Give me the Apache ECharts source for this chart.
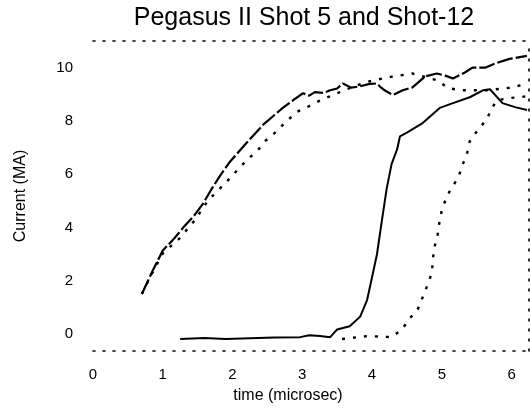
<!DOCTYPE html>
<html>
<head>
<meta charset="utf-8">
<title>Pegasus II</title>
<script src="https://cdn.jsdelivr.net/npm/echarts@6/dist/echarts.min.js"></script>
<style>
  html, body { margin: 0; padding: 0; background: #fff; }
  #main { width: 530px; height: 409px; }
</style>
</head>
<body>
<div id="main"></div>
<script>
// time ticks (microsec) and value ticks
var xTicks = [0, 1, 2, 3, 4, 5, 6];
var yTicks = [0, 2, 4, 6, 8, 10];

// long-dash curve, shot 5 (upper)
var shot5Upper = [
  [0.70, 1.51], [0.85, 2.35], [1.00, 3.14], [1.15, 3.55], [1.29, 3.99], [1.45, 4.45],
  [1.58, 4.91], [1.70, 5.45], [1.82, 5.94], [1.96, 6.46], [2.18, 7.12], [2.44, 7.86],
  [2.72, 8.49], [2.88, 8.80], [3.01, 9.04], [3.10, 8.95], [3.18, 9.08], [3.30, 9.05],
  [3.40, 9.15], [3.50, 9.22], [3.58, 9.41], [3.70, 9.25], [3.83, 9.30], [3.95, 9.38],
  [4.07, 9.41], [4.11, 9.30], [4.18, 9.15], [4.30, 8.97], [4.38, 9.08], [4.44, 9.15],
  [4.58, 9.26], [4.76, 9.67], [4.93, 9.78], [5.05, 9.70], [5.16, 9.59], [5.33, 9.82],
  [5.44, 10.00], [5.62, 10.00], [5.79, 10.18], [5.97, 10.33], [6.22, 10.44]
];

// dotted curve, shot 12 (upper)
var shot12Upper = [
  [0.70, 1.51], [0.85, 2.30], [1.00, 3.03], [1.25, 3.62], [1.46, 4.28], [1.65, 5.02],
  [1.93, 5.76], [2.06, 6.13], [2.22, 6.57], [2.35, 6.86], [2.46, 7.23], [2.61, 7.56],
  [2.75, 7.93], [2.92, 8.34], [3.07, 8.52], [3.21, 8.71], [3.40, 8.93], [3.60, 9.15],
  [3.90, 9.45], [4.21, 9.63], [4.58, 9.78], [4.94, 9.52], [5.09, 9.23], [5.29, 9.15],
  [5.64, 9.15], [6.02, 9.26], [6.22, 9.41]
];

// solid curve, shot 5 (late rise)
var shot5Rise = [
  [1.25, -0.18], [1.60, -0.14], [1.90, -0.18], [2.25, -0.15], [2.60, -0.12], [2.97, -0.11],
  [3.10, -0.04], [3.25, -0.07], [3.40, -0.11], [3.50, 0.18], [3.68, 0.30], [3.83, 0.66],
  [3.93, 1.29], [4.00, 2.14], [4.07, 2.99], [4.14, 4.24], [4.21, 5.46], [4.28, 6.38],
  [4.36, 6.94], [4.40, 7.42], [4.50, 7.56], [4.73, 7.93], [4.97, 8.49], [5.16, 8.67],
  [5.40, 8.89], [5.59, 9.15], [5.69, 9.19], [5.87, 8.67], [6.05, 8.52], [6.22, 8.41]
];

// dotted curve, shot 12 (late rise)
var shot12Rise = [
  [3.57, -0.18], [3.93, -0.07], [4.28, -0.11], [4.43, 0.18], [4.54, 0.59], [4.66, 0.96],
  [4.74, 1.48], [4.80, 1.88], [4.86, 2.32], [4.87, 2.80], [4.90, 3.32], [4.94, 3.73],
  [4.97, 4.28], [5.01, 4.76], [5.11, 5.35], [5.24, 5.90], [5.29, 6.31], [5.36, 6.75],
  [5.40, 7.23], [5.52, 7.68], [5.64, 8.04], [5.72, 8.49], [5.79, 8.78], [5.97, 8.86],
  [6.12, 8.89], [6.22, 8.93]
];

var font = 'Liberation Sans';
var dotted = { color: '#000', width: 1.6, type: [2, 8] };

function curve(data, style) {
  return {
    type: 'line', data: data, showSymbol: false, smooth: false,
    lineStyle: style, animation: false
  };
}

var chart = echarts.init(document.getElementById('main'));
chart.setOption({
  animation: false,
  backgroundColor: '#fff',
  title: {
    text: 'Pegasus II Shot 5 and Shot-12',
    left: 299, top: 1, textAlign: 'center',
    textStyle: { fontFamily: font, fontSize: 25, fontWeight: 'normal', color: '#000' }
  },
  grid: { left: 93, right: 1, top: 41, bottom: 54 },
  xAxis: [{
    type: 'value', min: 0, max: 6.25,
    name: 'time (microsec)', nameLocation: 'middle', nameGap: 37,
    nameTextStyle: { fontFamily: font, fontSize: 16, color: '#000', padding: [0, 46, 0, 0] },
    axisLine: { onZero: false, lineStyle: dotted },
    axisTick: { show: false },
    splitLine: { show: false },
    axisLabel: { customValues: xTicks, margin: 16, fontFamily: font, fontSize: 15, color: '#000' }
  }, {
    type: 'value', position: 'top', min: 0, max: 6.25,
    axisLine: { show: true, onZero: false, lineStyle: dotted },
    axisTick: { show: false }, axisLabel: { show: false }, splitLine: { show: false }
  }],
  yAxis: [{
    type: 'value', min: -0.63, max: 11,
    name: 'Current (MA)', nameLocation: 'middle', nameGap: 64, nameRotate: 90,
    nameTextStyle: { fontFamily: font, fontSize: 16, color: '#000' },
    axisLine: { show: false, onZero: false },
    axisTick: { show: false },
    splitLine: { show: false },
    axisLabel: { customValues: yTicks, margin: 20, fontFamily: font, fontSize: 15, color: '#000' }
  }, {
    type: 'value', position: 'right', min: -0.63, max: 11,
    axisLine: { show: true, onZero: false, lineStyle: dotted },
    axisTick: { show: false }, axisLabel: { show: false }, splitLine: { show: false }
  }],
  series: [
    curve(shot5Upper, { color: '#000', width: 2.2, type: [16, 3] }),
    curve(shot12Upper, { color: '#000', width: 2.4, type: [3, 8] }),
    curve(shot5Rise, { color: '#000', width: 2, type: 'solid' }),
    curve(shot12Rise, { color: '#000', width: 2.4, type: [3, 8] })
  ]
});
</script>
</body>
</html>
